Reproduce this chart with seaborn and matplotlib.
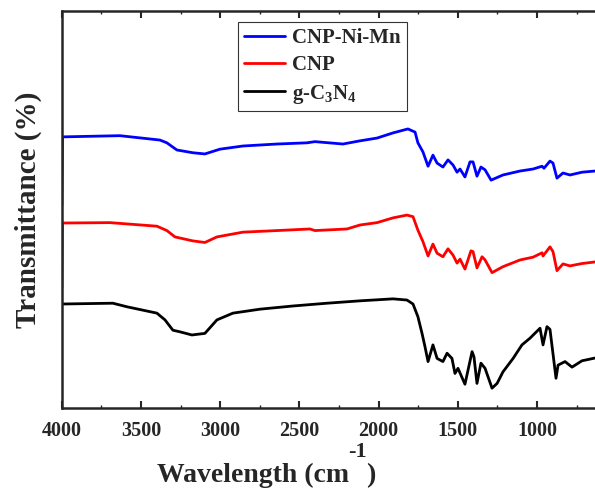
import numpy as np
import pandas as pd
import matplotlib
matplotlib.use("Agg")
import matplotlib.pyplot as plt
import seaborn as sns
from matplotlib.ticker import MultipleLocator

# wavenumber (cm-1) and transmittance (a.u.)
wn_ni_mn = [4000, 3996, 3634, 3381, 3337, 3274, 3173, 3097, 3002, 2857, 2642, 2453, 2402,
            2225, 2118, 2010, 1909, 1815, 1770, 1752, 1720, 1688, 1657, 1631, 1594, 1562,
            1530, 1505, 1486, 1455, 1423, 1404, 1379, 1354, 1328, 1290, 1215, 1107, 1025,
            968, 956, 918, 899, 874, 836, 792, 716, 633]
t_ni_mn = [51.1, 68.3, 68.6, 67.5, 66.8, 65.0, 64.3, 64.0, 65.2, 66.0, 66.5, 66.8, 67.1,
           66.5, 67.3, 68.0, 69.3, 70.3, 69.5, 66.8, 64.5, 60.9, 63.7, 61.7, 60.7, 62.5,
           61.2, 59.4, 60.2, 58.2, 62.0, 62.0, 58.4, 60.7, 60.0, 57.4, 58.7, 59.7, 60.2,
           60.9, 60.4, 62.2, 61.7, 57.9, 59.2, 58.7, 59.4, 59.7]

wn_cnp = [4000, 3996, 3697, 3400, 3337, 3286, 3173, 3097, 3021, 2857, 2642, 2434, 2402,
          2200, 2118, 2010, 1909, 1821, 1783, 1752, 1720, 1688, 1657, 1631, 1594, 1562,
          1530, 1505, 1486, 1455, 1417, 1404, 1379, 1347, 1328, 1284, 1215, 1107, 1025,
          968, 962, 918, 899, 874, 836, 792, 716, 633]
t_cnp = [30.2, 46.6, 46.7, 45.8, 44.7, 43.1, 42.1, 41.7, 43.1, 44.3, 44.7, 45.1, 44.7,
         45.1, 46.1, 46.7, 47.9, 48.6, 48.2, 44.8, 41.9, 38.3, 41.3, 39.0, 38.1, 40.1,
         38.5, 36.5, 37.5, 35.0, 39.6, 39.4, 35.3, 38.1, 37.3, 34.1, 35.6, 37.3, 38.0,
         39.1, 38.3, 40.6, 39.4, 34.6, 36.3, 35.8, 36.4, 36.8]

wn_gcn = [4000, 3678, 3589, 3400, 3349, 3299, 3255, 3179, 3097, 3021, 2920, 2749, 2541,
          2326, 2118, 1909, 1821, 1783, 1752, 1726, 1707, 1688, 1657, 1631, 1594, 1568,
          1537, 1518, 1499, 1455, 1410, 1398, 1379, 1354, 1328, 1284, 1252, 1215, 1151,
          1095, 1044, 981, 962, 937, 918, 880, 867, 823, 779, 716, 633]
t_gcn = [26.2, 26.4, 25.5, 23.9, 22.2, 19.6, 19.2, 18.4, 18.8, 22.2, 23.9, 24.9, 25.7,
         26.4, 27.0, 27.5, 27.2, 26.2, 23.0, 18.8, 15.4, 11.7, 15.9, 12.5, 11.7, 13.8,
         12.5, 8.7, 10.0, 6.0, 14.2, 12.9, 6.2, 11.3, 10.0, 5.0, 6.2, 9.1, 12.5,
         15.9, 17.6, 20.1, 15.9, 20.5, 19.8, 7.5, 10.8, 11.7, 10.3, 11.9, 12.6]

labels = ["CNP-Ni-Mn", "CNP", r"g-C$_\mathbf{3}$N$_\mathbf{4}$"]
colors = ["#0000ff", "#ff0000", "#000000"]

sns.set_style("ticks")
plt.rcParams["font.family"] = ["Liberation Serif", "DejaVu Serif"]
plt.rcParams["font.weight"] = "bold"
plt.rcParams["mathtext.fontset"] = "custom"
plt.rcParams["mathtext.rm"] = "Liberation Serif:bold"
plt.rcParams["mathtext.bf"] = "Liberation Serif:bold"
plt.rcParams["mathtext.it"] = "Liberation Serif:bold"

W, H = 595, 490
fig = plt.figure(figsize=(W / 100, H / 100), dpi=100)
ax = fig.add_axes([0.104, 0.1673, 0.905, 0.8102])

series = [(wn_ni_mn, t_ni_mn), (wn_cnp, t_cnp), (wn_gcn, t_gcn)]
for (wn, t), lab, c in zip(series, labels, colors):
    df = pd.DataFrame({"wn": wn, "t": t})
    sns.lineplot(data=df, x="wn", y="t", ax=ax, color=c, lw=2.0, label=lab,
                 sort=False, estimator=None)

ax.set_xlim(4000, 600)
ax.set_ylim(0, 100)
ax.xaxis.set_minor_locator(MultipleLocator(250))
ax.set_xticks([4000, 3500, 3000, 2500, 2000, 1500, 1000])
ax.set_yticks([])
ax.tick_params(axis="x", which="major", direction="in", length=5, width=1.5,
               labelsize=14.5, top=True, pad=9)
ax.tick_params(axis="x", which="minor", direction="in", length=2, width=1, top=True)
for lbl in ax.get_xticklabels():
    lbl.set_fontweight("bold")
for sp in ax.spines.values():
    sp.set_linewidth(1.8)
    sp.set_visible(True)

ax.set_xlabel("")
ax.set_ylabel("Transmittance (%)", fontsize=21, fontweight="bold", labelpad=14)

# x label built from pieces so the raised "-1" sits like in the original
renderer = fig.canvas.get_renderer()
x0, base, sup_base = 157, 482, 457
t1 = fig.text(x0 / W, (H - base) / H, "Wavelength (cm", fontsize=20,
              fontweight="bold", va="baseline", ha="left")
x1 = t1.get_window_extent(renderer).x1
t2 = fig.text((x1 - 1) / W, (H - sup_base) / H, "-1", fontsize=16,
              fontweight="bold", va="baseline", ha="left")
x2 = t2.get_window_extent(renderer).x1
fig.text((x2 - 1) / W, (H - base) / H, ")", fontsize=20, fontweight="bold",
         va="baseline", ha="left")

leg = ax.legend(loc="upper left", bbox_to_anchor=(0.327, 0.972), borderaxespad=0,
                fontsize=15, frameon=True, fancybox=False, edgecolor="black",
                handlelength=2.0, handletextpad=0.33, borderpad=0.28, labelspacing=0.35)
leg.get_frame().set_linewidth(0.8)
for h in leg.get_lines():
    h.set_linewidth(2.0)

fig.savefig("out.png", dpi=100)
